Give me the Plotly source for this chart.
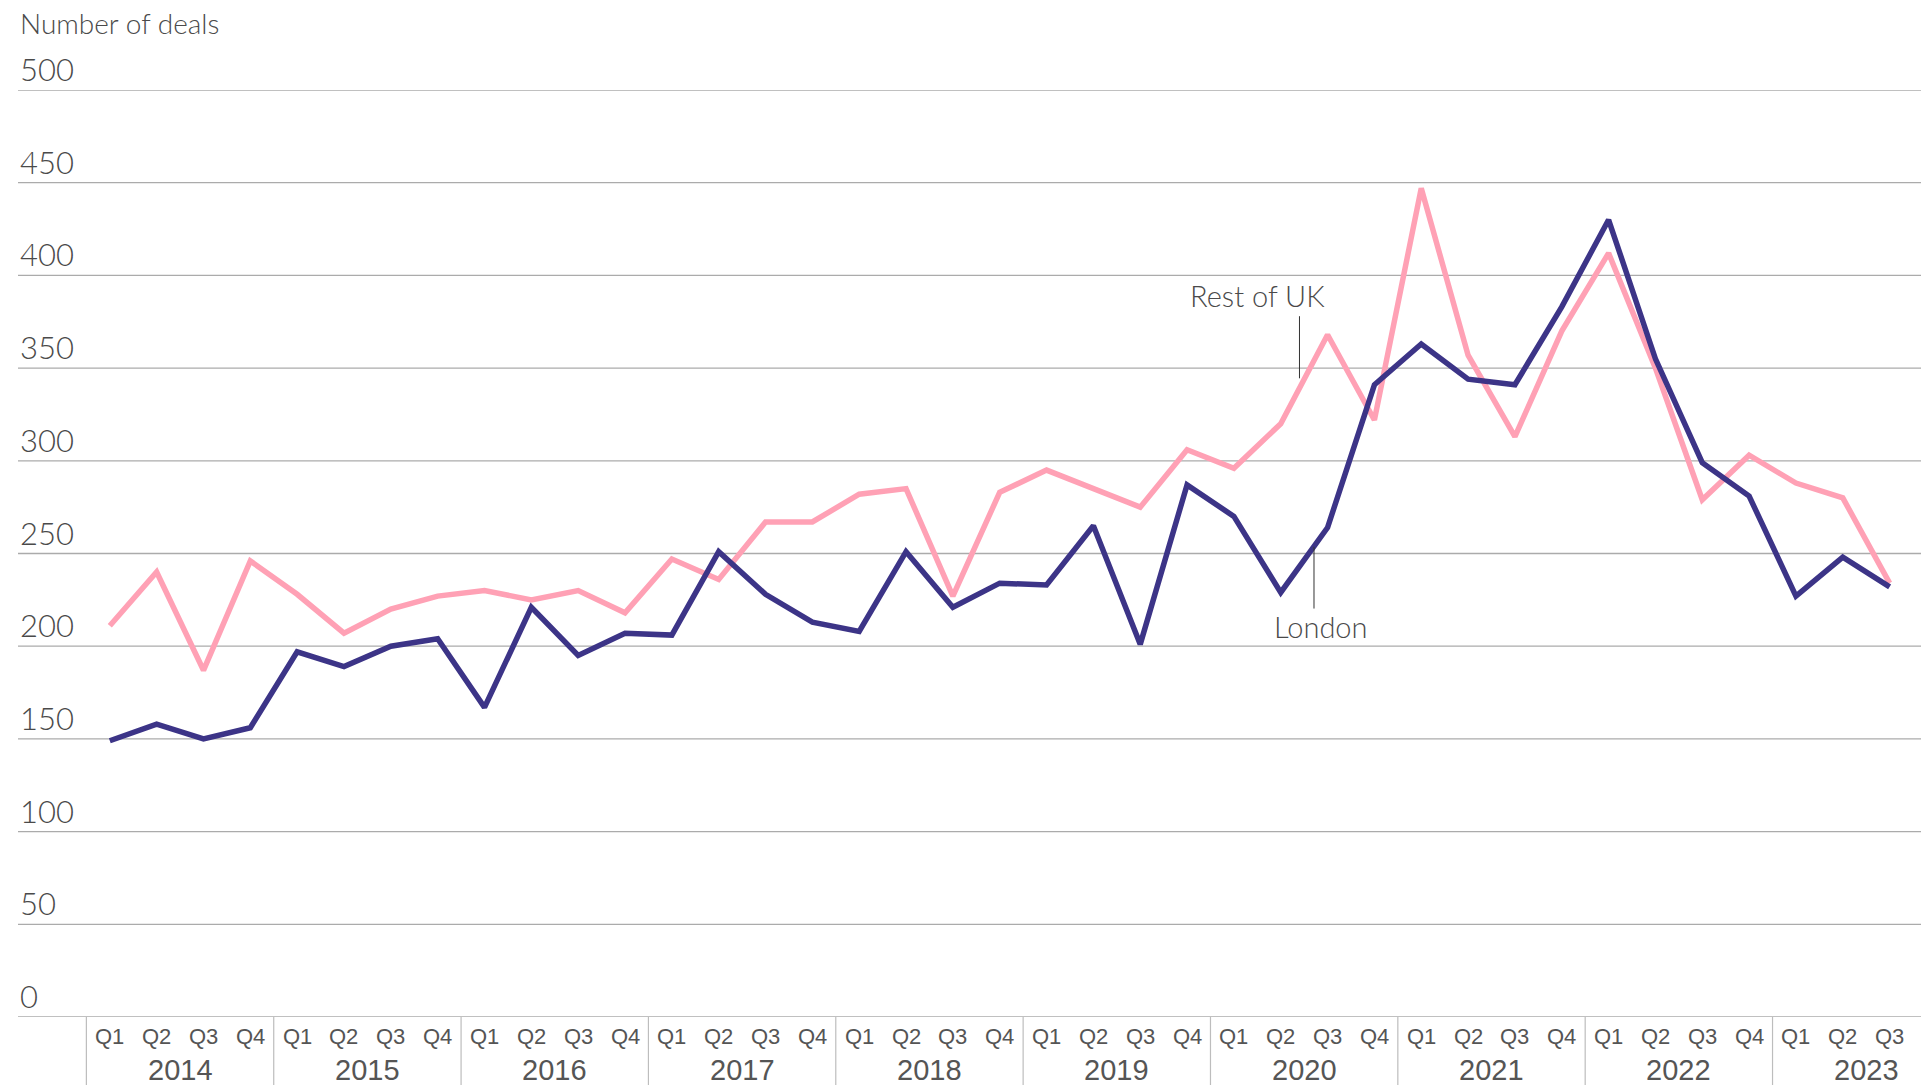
import plotly.graph_objects as go

# ---- data ----
years = ["2014", "2015", "2016", "2017", "2018", "2019", "2020", "2021", "2022", "2023"]
quarter_names = ["Q1", "Q2", "Q3", "Q4"]
quarters = [f"{q} {y}" for y in years for q in quarter_names][:39]  # up to Q3 2023

london = [149, 158, 150, 156,
          197, 189, 200, 204,
          167, 221, 195, 207,
          206, 251, 228, 213,
          208, 251, 221, 234,
          233, 265, 201, 287,
          270, 229, 264, 341,
          363, 344, 341, 383,
          430, 355, 299, 281,
          227, 248, 232]

rest_of_uk = [211, 240, 187, 246,
              228, 207, 220, 227,
              230, 225, 230, 218,
              247, 236, 267, 267,
              282, 285, 227, 283,
              295, 285, 275, 306,
              296, 320, 368, 322,
              447, 357, 313, 370,
              412, 350, 279, 303,
              288, 280, 234]

y_ticks = [0, 50, 100, 150, 200, 250, 300, 350, 400, 450, 500]

NAVY = "#3c3487"
PINK = "#ffa1b5"
GRID = "#ababab"
TEXT = "#4a4a4a"
MAIN_FONT = "Lato"
AXIS_FONT = "Liberation Sans, Arial, sans-serif"

xpos = list(range(len(quarters)))

fig = go.Figure()
fig.add_trace(go.Scatter(x=xpos, y=rest_of_uk, mode="lines", name="Rest of UK",
                         line=dict(color=PINK, width=5.5), cliponaxis=False))
fig.add_trace(go.Scatter(x=xpos, y=london, mode="lines", name="London",
                         line=dict(color=NAVY, width=5.5), cliponaxis=False))

annotations = []
shapes = []

# horizontal gridlines and y tick labels above them
for v in y_ticks:
    shapes.append(dict(type="line", xref="paper", yref="y", x0=0, x1=1, y0=v, y1=v,
                       layer="below", line=dict(color=GRID, width=1.3)))
    annotations.append(dict(x=0, xref="paper", y=v, yref="y", text=str(v),
                            showarrow=False, xanchor="left", yanchor="bottom",
                            xshift=0, yshift=0,
                            font=dict(family=MAIN_FONT, size=31, color=TEXT, weight=300)))

# y-axis title
annotations.append(dict(x=0, xref="paper", y=1, yref="paper", text="Number of deals",
                        showarrow=False, xanchor="left", yanchor="middle", yshift=67,
                        font=dict(family=MAIN_FONT, size=28, color=TEXT, weight=300)))

# quarter labels
for i, q in enumerate(quarters):
    annotations.append(dict(x=i, xref="x", y=0, yref="paper", text=q.split()[0],
                            showarrow=False, xanchor="center", yanchor="middle", yshift=-19,
                            font=dict(family=AXIS_FONT, size=22, color="#555555")))

# year labels and dividers
for k, yr in enumerate(years):
    start = 4 * k
    annotations.append(dict(x=start + 1.5, xref="x", y=0, yref="paper", text=yr,
                            showarrow=False, xanchor="center", yanchor="middle", yshift=-53,
                            font=dict(family=AXIS_FONT, size=29, color="#555555")))
    shapes.append(dict(type="line", xref="x", yref="paper", x0=start - 0.5, x1=start - 0.5,
                       y0=0, y1=-0.08, line=dict(color="#bdbdbd", width=1.2)))

# series labels with leader lines
annotations.append(dict(x=24.5, xref="x", y=389, yref="y", text="Rest of UK", showarrow=False,
                        xanchor="center", yanchor="middle",
                        font=dict(family=MAIN_FONT, size=29, color=TEXT, weight=300)))
shapes.append(dict(type="line", xref="x", yref="y", x0=25.4, x1=25.4, y0=378, y1=344.5,
                   line=dict(color="#333333", width=1)))
annotations.append(dict(x=25.86, xref="x", y=210.4, yref="y", text="London", showarrow=False,
                        xanchor="center", yanchor="middle",
                        font=dict(family=MAIN_FONT, size=29, color=TEXT, weight=300)))
shapes.append(dict(type="line", xref="x", yref="y", x0=25.71, x1=25.71, y0=253.6, y1=220.3,
                   line=dict(color="#333333", width=1)))

fig.update_layout(
    width=1931, height=1085,
    margin=dict(l=18, r=10, t=90, b=68),
    paper_bgcolor="white", plot_bgcolor="white",
    showlegend=False,
    xaxis=dict(range=[-1.96, 38.67], showgrid=False, zeroline=False, showticklabels=False,
               ticks="", showline=False, fixedrange=True),
    yaxis=dict(range=[0, 500], showticklabels=False, showgrid=False, zeroline=False,
               ticks="", showline=False, fixedrange=True),
    annotations=annotations,
    shapes=shapes,
)

fig.write_html("out.html", config={"displayModeBar": False},
               post_script="document.body.style.margin='0';document.body.style.overflow='hidden';")
